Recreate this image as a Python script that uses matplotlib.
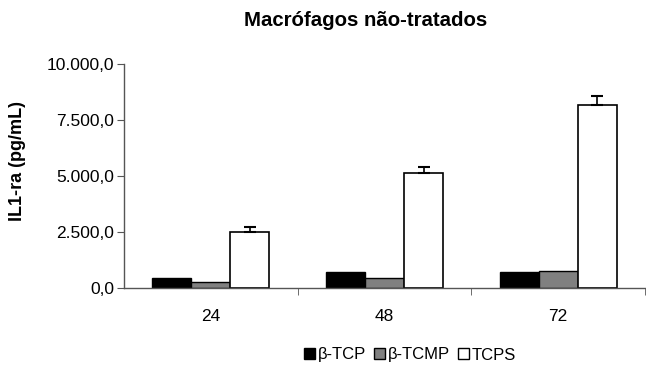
import matplotlib
matplotlib.use("Agg")
import matplotlib.pyplot as plt
import numpy as np
from matplotlib.ticker import FuncFormatter, FixedLocator

plt.rcParams['font.family'] = ['Liberation Sans', 'DejaVu Sans']

categories = ["24", "48", "72"]
series = ["β-TCP", "β-TCMP", "TCPS"]
b_tcp = [450, 720, 710]
b_tcmp = [270, 450, 770]
tcps = [2510, 5130, 8150]
tcps_err = [200, 260, 400]
colors = ["#000000", "#808080", "#ffffff"]

fig = plt.figure(figsize=(6.46, 3.72), dpi=100)
ax = fig.add_axes([124/646, 1-288/372, (645-124)/646, (288-64)/372])

x = np.arange(len(categories)) + 0.5
w = 0.225
vals = [b_tcp, b_tcmp, tcps]
for i, (name, v, c) in enumerate(zip(series, vals, colors)):
    pos = x + (i - 1) * w
    if name == "TCPS":
        ax.bar(pos, v, w, color=c, edgecolor="black", linewidth=1.2, label=name,
               yerr=[np.zeros(len(v)), tcps_err], error_kw=dict(ecolor="black", elinewidth=1.2, capsize=4, capthick=1.5))
    else:
        ax.bar(pos, v, w, color=c, edgecolor="black", linewidth=1.0, label=name)

ax.set_xlim(0, 3)
ax.set_ylim(0, 10000)
ax.set_yticks([0, 2500, 5000, 7500, 10000])
ax.yaxis.set_major_formatter(FuncFormatter(lambda v, p: f"{v:,.1f}".replace(",", "X").replace(".", ",").replace("X", ".")))
ax.set_xticks(x)
ax.set_xticklabels(categories)
ax.xaxis.set_minor_locator(FixedLocator([1, 2, 3]))
ax.tick_params(axis='x', which='major', length=0, pad=15, labelsize=12.5)
ax.tick_params(axis='x', which='minor', length=5, color="#555555", direction='out')
ax.tick_params(axis='y', length=5, color="#555555", labelsize=12.5, pad=2)

for s in ["top", "right"]:
    ax.spines[s].set_visible(False)
for s in ["left", "bottom"]:
    ax.spines[s].set_color("#555555")
    ax.spines[s].set_linewidth(1.0)

ax.set_ylabel("IL1-ra (pg/mL)", fontsize=13, fontweight="bold", va="center")
ax.yaxis.set_label_coords((18 - 124) / 521, (288 - 161) / 224)
fig.text(366/646, 1-21/372, "Macrófagos não-tratados", ha="center", va="center", fontsize=14.7, fontweight="bold")

leg = fig.legend(loc="center", bbox_to_anchor=(410/646, 1-355/372), ncol=3, frameon=False,
                 fontsize=12, handlelength=0.65, handleheight=0.65, handletextpad=0.15, columnspacing=0.5)
for h in leg.legend_handles:
    h.set_linewidth(1.0)

fig.savefig("out.png", dpi=100)
